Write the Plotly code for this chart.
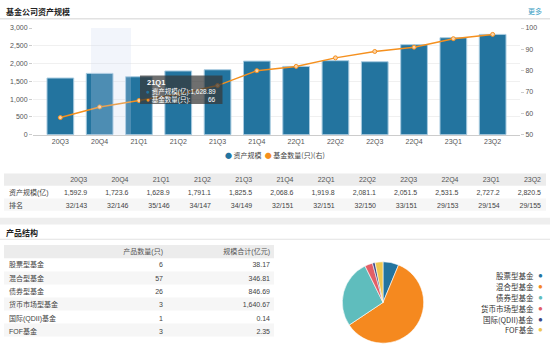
import plotly.graph_objects as go

W, H = 550, 353
def px(x): return x / W
def py(y): return 1 - y / H

quarters = ["20Q3", "20Q4", "21Q1", "21Q2", "21Q3", "21Q4", "22Q1", "22Q2", "22Q3", "22Q4", "23Q1", "23Q2"]
assets = [1592.9, 1723.6, 1628.89, 1791.1, 1825.5, 2068.6, 1919.8, 2081.1, 2051.5, 2531.5, 2727.2, 2820.5]
fund_counts = [58, 63, 66, 69, 73, 80, 82, 86, 89, 91, 95, 97]
ranks = ["32/143", "32/146", "35/146", "34/147", "34/149", "32/151", "32/151", "32/150", "33/151", "29/153", "29/154", "29/155"]

prod_types = ["股票型基金", "混合型基金", "债券型基金", "货币市场型基金", "国际(QDII)基金", "FOF基金"]
prod_counts = [6, 57, 26, 3, 1, 3]
prod_scale = ["38.17", "346.81", "846.69", "1,640.67", "0.14", "2.35"]
pie_colors = ["#23749f", "#f5891f", "#5fbdbd", "#e25f66", "#3b4886", "#efc750"]

BLUE = "#23749f"
ORANGE = "#f5901e"
FONT = "Liberation Sans, Noto Sans CJK SC, sans-serif"
CJK = "Noto Sans CJK SC, sans-serif"
HDR_BG = "#ececec"
ALT_BG = "#f6f6f6"

fig = go.Figure()
fig.add_trace(go.Bar(x=quarters, y=assets, marker=dict(color=BLUE, line=dict(color="#a8cbe0", width=1)),
                     width=0.68, showlegend=False, hoverinfo="skip"))
fig.add_trace(go.Scatter(x=quarters, y=fund_counts, yaxis="y2", mode="lines+markers",
                         line=dict(color=ORANGE, width=1.5),
                         marker=dict(size=4, color="#fbd3a8", line=dict(color=ORANGE, width=1)),
                         showlegend=False, hoverinfo="skip"))

# tables (text only; row backgrounds drawn as shapes below)
T1_TOP, T1_ROW = 168, 13
fig.add_trace(go.Table(
    domain=dict(x=[px(1), px(549)], y=[py(230), py(T1_TOP)]),
    columnwidth=[53] + [41.25] * 12,
    header=dict(values=[""] + quarters, fill_color="rgba(0,0,0,0)", line=dict(color="rgba(0,0,0,0)", width=0),
                align=["left"] + ["right"] * 12, font=dict(size=7, color="#555", family=FONT), height=T1_ROW),
    cells=dict(values=[["资产规模(亿)", "排名"]] + [[f"{a:,.1f}", r] for a, r in zip(assets, ranks)],
               fill_color="rgba(0,0,0,0)", line=dict(color="rgba(0,0,0,0)", width=0),
               align=["left"] + ["right"] * 12, font=dict(size=7, color="#444", family=FONT), height=T1_ROW),
))
T2_TOP, T2_HDR, T2_ROW = 242, 13, 13.3
fig.add_trace(go.Table(
    domain=dict(x=[px(1), px(278)], y=[py(352), py(T2_TOP)]),
    columnwidth=[100, 70, 107],
    header=dict(values=["", "产品数量(只)", "规模合计(亿元)"], fill_color="rgba(0,0,0,0)",
                line=dict(width=0, color="rgba(0,0,0,0)"),
                align=["left", "right", "right"], font=dict(size=7, color="#555", family=FONT), height=T2_HDR),
    cells=dict(values=[prod_types, [str(c) for c in prod_counts], prod_scale],
               fill_color="rgba(0,0,0,0)", line=dict(color="rgba(0,0,0,0)", width=0),
               align=["left", "right", "right"], font=dict(size=7, color="#444", family=FONT), height=T2_ROW),
))
fig.add_trace(go.Pie(labels=prod_types, values=prod_counts, sort=False, direction="clockwise", rotation=0,
                     marker=dict(colors=pie_colors, line=dict(color="#ffffff", width=0.6)),
                     textinfo="none", showlegend=False, hoverinfo="skip",
                     domain=dict(x=[px(341.5), px(424.5)], y=[py(346), py(263)])))

shapes = [
    dict(type="line", xref="paper", yref="paper", x0=0, x1=1, y0=py(15), y1=py(15), line=dict(color="#e2e2e2", width=1.5)),
    dict(type="rect", xref="paper", yref="paper", x0=0, x1=1, y0=py(225), y1=py(218), fillcolor="#eeeeee", line=dict(width=0)),
    dict(type="line", xref="paper", yref="paper", x0=0, x1=1, y0=py(240), y1=py(240), line=dict(color="#e2e2e2", width=1)),
    # table 1 backgrounds
    dict(type="rect", xref="paper", yref="paper", x0=px(4), x1=px(546), y0=py(185.5), y1=py(173), fillcolor=HDR_BG, line=dict(width=0), layer="below"),
    dict(type="rect", xref="paper", yref="paper", x0=px(4), x1=px(546), y0=py(211), y1=py(198.5), fillcolor=ALT_BG, line=dict(width=0), layer="below"),
    # table 2 backgrounds
    dict(type="rect", xref="paper", yref="paper", x0=px(4), x1=px(274), y0=py(259.5), y1=py(246), fillcolor=HDR_BG, line=dict(width=0), layer="below"),
]
for k in range(len(prod_types)):
    if k % 2 == 1:
        y0 = 259.5 + k * 13.3
        shapes.append(dict(type="rect", xref="paper", yref="paper", x0=px(4), x1=px(274), y0=py(y0 + 13.3), y1=py(y0),
                           fillcolor=ALT_BG, line=dict(width=0), layer="below"))
shapes += [
    # hover shadow band
    dict(type="rect", xref="paper", yref="paper", x0=px(91), x1=px(131), y0=py(133.3), y1=py(24.5),
         fillcolor="rgba(205,215,240,0.25)", line=dict(width=0), layer="above"),
    # tooltip box
    dict(type="rect", xref="paper", yref="paper", x0=px(140), x1=px(222.5), y0=py(102), y1=py(73),
         fillcolor="rgba(55,55,55,0.72)", line=dict(width=0), layer="above"),
]

ann = [
    dict(text="<b>基金公司资产规模</b>", x=px(4), y=py(8), xanchor="left", yanchor="middle",
         font=dict(size=8, color="#222", family=CJK)),
    dict(text="更多", x=px(544), y=py(7), xanchor="right", yanchor="middle", font=dict(size=7, color="#3aa0c4", family=CJK)),
    dict(text="<b>产品结构</b>", x=px(4), y=py(233), xanchor="left", yanchor="middle",
         font=dict(size=8, color="#222", family=CJK)),
    dict(text=f"<span style='color:{BLUE}'>●</span> 资产规模  <span style='color:{ORANGE}'>●</span> 基金数量(只)(右)",
         x=px(275), y=py(154), xanchor="center", yanchor="middle", font=dict(size=7, color="#444", family=CJK)),
]
i = quarters.index("21Q1")
ann += [
    dict(text=f"<b>{quarters[i]}</b>", x=px(145), y=py(80), xanchor="left", yanchor="middle", font=dict(size=7.5, color="#fff", family=FONT)),
    dict(text=f"<span style='color:{BLUE}'>●</span> 资产规模(亿):{assets[i]:,.2f}", x=px(144), y=py(89.5), xanchor="left", yanchor="middle",
         font=dict(size=6.5, color="#fff", family=FONT)),
    dict(text=f"<span style='color:{ORANGE}'>●</span> 基金数量(只):", x=px(144), y=py(97.5), xanchor="left", yanchor="middle",
         font=dict(size=6.5, color="#fff", family=FONT)),
    dict(text=str(fund_counts[i]), x=px(218), y=py(97.5), xanchor="right", yanchor="middle",
         font=dict(size=6.5, color="#fff", family=FONT)),
]
for k, (lab, col) in enumerate(zip(prod_types, pie_colors)):
    yy = 277.5 + k * 11
    ann.append(dict(text=lab, x=px(536), y=py(yy), xanchor="right", yanchor="middle", font=dict(size=7.5, color="#333", family=CJK)))
    ann.append(dict(text="●", x=px(540.5), y=py(yy), xanchor="center", yanchor="middle", font=dict(size=8, color=col)))
for a in ann:
    a.update(xref="paper", yref="paper", showarrow=False)

fig.update_layout(
    width=W, height=H, margin=dict(l=0, r=0, t=0, b=0),
    paper_bgcolor="#ffffff", plot_bgcolor="rgba(0,0,0,0)",
    font=dict(family=FONT, size=7, color="#555"),
    xaxis=dict(domain=[px(33), px(520)], type="category", showline=True, linecolor="#cccccc", linewidth=1,
               tickfont=dict(size=7, color="#555"), ticks="", showgrid=False, fixedrange=True),
    yaxis=dict(domain=[py(133.3), py(24.5)], range=[0, 3000], dtick=500, tickformat=",", showgrid=True,
               gridcolor="#f0f0f0", zeroline=False, ticks="outside", ticklen=3, tickcolor="#ccc",
               tickfont=dict(size=7, color="#555")),
    yaxis2=dict(overlaying="y", side="right", range=[50, 100], dtick=10, showgrid=False, zeroline=False,
                anchor="x", ticks="outside", ticklen=3, tickcolor="#ccc", tickfont=dict(size=7, color="#555")),
    shapes=shapes, annotations=ann,
)
fig.write_html("out.html")
